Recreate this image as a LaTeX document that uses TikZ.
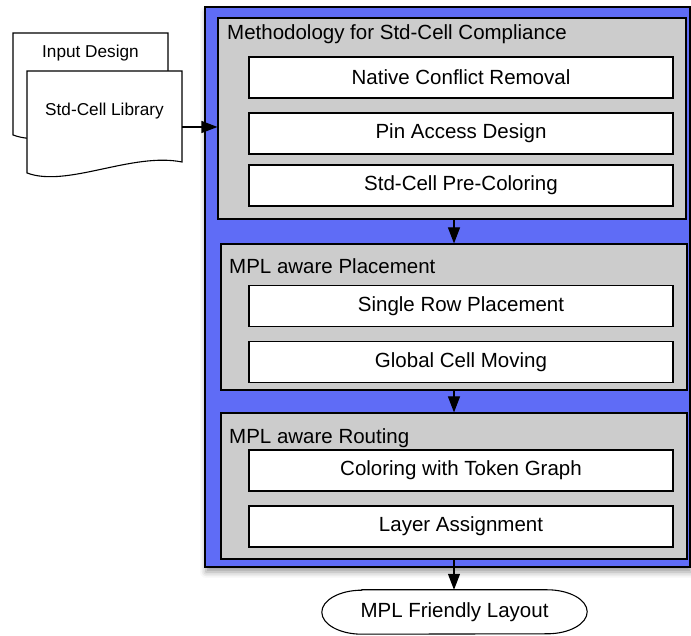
\documentclass[tikz,border=0pt]{standalone}
\usepackage{fontspec}
\setmainfont{Liberation Sans}
\usetikzlibrary{shapes.geometric, arrows.meta, calc, shadows.blur}
\definecolor{flowblue}{RGB}{95,108,246}
\definecolor{stagegray}{RGB}{204,204,204}
% document outline: #1 = text centre, #2 = height of top edge above it
\newcommand{\docpath}[2]{\draw[docline] ($(#1)+(-77.5,#2)$) -- ++(155,0) -- ++(0,-91) .. controls +(-50,10) and +(40,-15) .. ($(#1)+(-77.5,#2-102)$) -- cycle;}

\begin{document}
\begin{tikzpicture}[x=1pt, y=1pt]
\tikzstyle{flowbox} = [rectangle, draw=black, line width=1.3pt, fill=flowblue, blur shadow={shadow xshift=1pt, shadow yshift=-5pt, shadow blur radius=6pt}]
\tikzstyle{stage} = [rectangle, draw=black, line width=1.1pt, fill=stagegray, minimum width=466pt, minimum height=146pt]
\tikzstyle{task} = [rectangle, draw=black, line width=1.1pt, fill=white, minimum width=424pt, minimum height=41pt, font=\fontsize{20.5}{24}\selectfont]
\tikzstyle{title} = [anchor=base west, inner sep=0pt, font=\fontsize{20.5}{24}\selectfont]
\tikzstyle{doc} = [minimum width=155pt, inner sep=0pt, font=\fontsize{17.2}{20}\selectfont]
\tikzstyle{docline} = [draw=black, line width=1.1pt, fill=white]
\tikzstyle{result} = [rectangle, minimum width=265pt, minimum height=44pt, font=\fontsize{20.5}{24}\selectfont]
\tikzstyle{arrow} = [line width=1.1pt, -{Triangle[length=16pt, width=12pt]}]
\useasboundingbox (0,0) rectangle (691,636);

% Input documents
\coordinate (design-c) at (90.5,583);
\docpath{design-c}{20}
\node (design) [doc] at (design-c) {Input Design};
\coordinate (lib-c) at (104.5,525);
\docpath{lib-c}{40}
\node (lib) [doc] at (lib-c) {Std-Cell Library};

% Flow
\node (flow) [flowbox, minimum width=485pt, minimum height=560pt] at (447.5,349) {};
\node (compliance) [stage, minimum width=468pt, minimum height=201pt] at (452,517.5) {};
\node (placement) [stage] at (454,319) {};
\node (routing) [stage] at (454,150) {};

\node (compliancetitle) [title] at (227,596) {Methodology for Std-Cell Compliance};
\node (placementtitle) [title] at (229,362) {MPL aware Placement};
\node (routingtitle) [title] at (229,192) {MPL aware Routing};

\node (ncr) [task] at (461,558.5) {Native Conflict Removal};
\node (pad) [task] at (461,502.5) {Pin Access Design};
\node (precolor) [task] at (461,450.5) {Std-Cell Pre-Coloring};
\node (srp) [task] at (461,330) {Single Row Placement};
\node (gcm) [task] at (461,274) {Global Cell Moving};
\node (token) [task] at (461,165.5) {Coloring with Token Graph};
\node (layer) [task] at (461,109.5) {Layer Assignment};

% Terminal with elliptic ends
\node (layout) [result] at (454.5,24) {MPL Friendly Layout};
\draw [line width=1.1pt] ([xshift=40pt]layout.north west) -- ([xshift=-40pt]layout.north east)
  arc[start angle=90, end angle=-90, x radius=40, y radius=22]
  -- ([xshift=40pt]layout.south west)
  arc[start angle=270, end angle=90, x radius=40, y radius=22] -- cycle;

% Arrows
\draw [arrow] ([yshift=-16pt]lib.east) -- ([yshift=-16pt]lib.east -| compliance.west);
\draw [arrow] (compliance.south -| placement.north) -- (placement.north);
\draw [arrow] (placement) -- (routing);
\draw [arrow] (routing.south) -- (routing.south |- layout.north);

\end{tikzpicture}
\end{document}
